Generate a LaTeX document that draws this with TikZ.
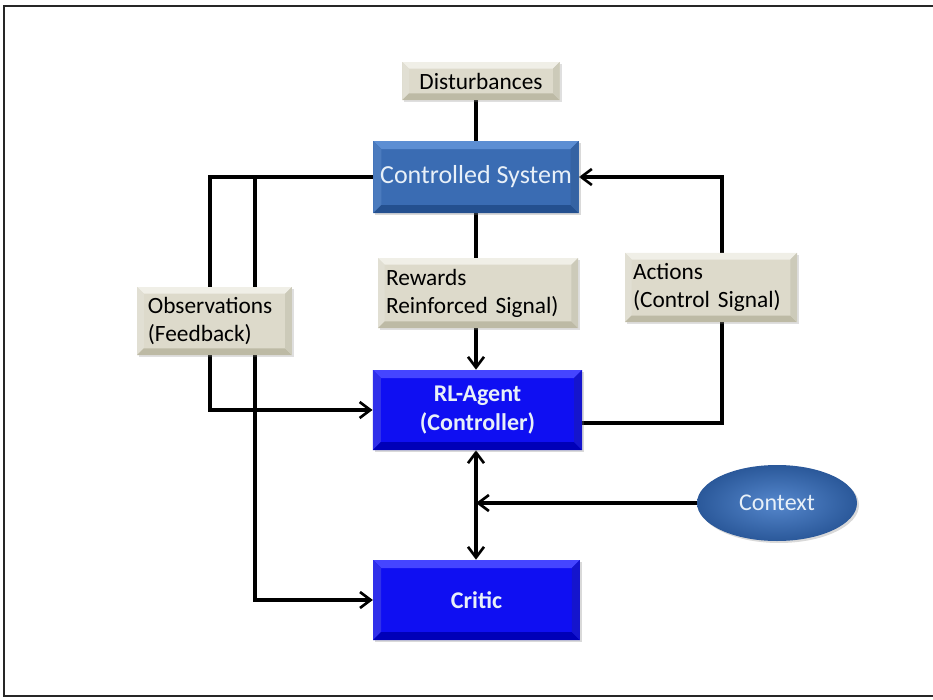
\documentclass[tikz,border=0pt]{standalone}
\usepackage{fontspec}
\setmainfont{Carlito}
\usetikzlibrary{arrows.meta,calc,shapes.geometric,shadows,backgrounds}
\definecolor{beigeC}{HTML}{DDDACB}
\definecolor{beigeL}{HTML}{F0EFE7}
\definecolor{beigeD}{HTML}{BDBAA5}
\definecolor{steelC}{HTML}{3A6CB3}
\definecolor{steelL}{HTML}{5C8ED3}
\definecolor{steelD}{HTML}{24508F}
\definecolor{brightC}{HTML}{0F0FF2}
\definecolor{brightL}{HTML}{4545FF}
\definecolor{brightD}{HTML}{0000B8}
\definecolor{txtL}{HTML}{E8F0F8}
\newcommand{\bevelbox}[3]{%
  \coordinate (pnw) at (path picture bounding box.north west);
  \coordinate (pse) at (path picture bounding box.south east);
  \coordinate (pne) at (path picture bounding box.north east);
  \coordinate (psw) at (path picture bounding box.south west);
  \fill[#1] (pnw) -- (pne) -- ($(pne)+(-#3,-#3)$) -- ($(pnw)+(#3,-#3)$) -- cycle;
  \fill[#1!70!#2] (pnw) -- (psw) -- ($(psw)+(#3,#3)$) -- ($(pnw)+(#3,-#3)$) -- cycle;
  \fill[#2] (psw) -- (pse) -- ($(pse)+(-#3,#3)$) -- ($(psw)+(#3,#3)$) -- cycle;
  \fill[#2!70!#1] (pne) -- (pse) -- ($(pse)+(-#3,#3)$) -- ($(pne)+(-#3,-#3)$) -- cycle;
}
\tikzset{
  lightbox/.style={fill=beigeC, drop shadow={opacity=0.25,shadow xshift=1.5pt,shadow yshift=-1.5pt},
    path picture={\bevelbox{beigeL}{beigeD}{5pt}}, font=\fontsize{17.5}{21}\selectfont,
    align=left, text=black, inner sep=0pt},
  steelbox/.style={fill=steelC, drop shadow={opacity=0.3,shadow xshift=1.5pt,shadow yshift=-1.5pt},
    path picture={\bevelbox{steelL}{steelD}{6pt}}, font=\fontsize{19.5}{21}\selectfont,
    text=txtL, inner sep=0pt},
  bluebox/.style={fill=brightC, drop shadow={opacity=0.3,shadow xshift=1.5pt,shadow yshift=-1.5pt},
    path picture={\bevelbox{brightL}{brightD}{6pt}}, font=\bfseries\fontsize{18}{22}\selectfont,
    text=txtL, align=center, inner sep=0pt},
  conn/.style={line width=2.6pt, black},
  arr/.style={conn, -{Straight Barb[length=8pt,width=12pt,line width=2pt]}},
  darr/.style={conn, {Straight Barb[length=8pt,width=12pt,line width=2pt]}-{Straight Barb[length=8pt,width=12pt,line width=2pt]}},
}
\begin{document}
\begin{tikzpicture}[x=0.75pt,y=-0.75pt]
\useasboundingbox (0,0) rectangle (933,700);
\draw[line width=2.2pt, black!85] (933,6) -- (4,6) -- (4,696) -- (933,696);

\coordinate (obsA) at (210,177);
\coordinate (obsB) at (255,177);
\coordinate (actA) at (722,423);
\coordinate (ctxJ) at (476,503);

% nodes
\node[lightbox, minimum width=118pt, minimum height=28.5pt, align=center] (dist) at (481,81) {Disturbances};
\node[steelbox, minimum width=154pt, minimum height=54pt] (cs) at (476,177) {Controlled System};
\node[lightbox, minimum width=150pt, minimum height=52.5pt, text width=138pt] (rew) at (478,293) {Rewards\\Reinforced Signal)};
\node[lightbox, minimum width=129pt, minimum height=52pt, text width=117pt] (act) at (711,287.5) {Actions\\(Control Signal)};
\node[lightbox, minimum width=116pt, minimum height=51pt, text width=100pt] (obs) at (214.5,321) {Observations\\(Feedback)};
\node[bluebox, minimum width=157pt, minimum height=60pt] (rl) at (477.5,410) {RL-Agent\\(Controller)};
\node[bluebox, minimum width=155pt, minimum height=60pt] (cr) at (476.5,600) {Critic};
\node[ellipse, minimum width=120pt, minimum height=57pt, inner sep=0pt,
  inner color=steelL!80!steelC, outer color=steelD!70!steelC,
  drop shadow={opacity=0.3,shadow xshift=1.5pt,shadow yshift=-1.5pt},
  text=txtL, font=\fontsize{18}{20}\selectfont] (ctx) at (777,503) {Context};

\begin{pgfonlayer}{background}
\draw[conn] (cs.north |- dist.south) -- (cs.north);
\draw[conn] (cs.south) -- (cs.south |- rew.north);
\draw[arr] (cs.south |- rew.south) -- (cs.south |- rl.north);
\draw[darr] (cs.south |- rl.south) -- (cs.south |- cr.north);
\draw[arr] (ctx.west) -- (ctxJ);
\draw[arr] (rl.east |- actA) -- (actA) |- (cs.east);
\draw[arr] (cs.west) -- (obsA) |- (rl.west);
\draw[arr] (obsB) |- (cr.west);
\end{pgfonlayer}
\end{tikzpicture}
\end{document}
